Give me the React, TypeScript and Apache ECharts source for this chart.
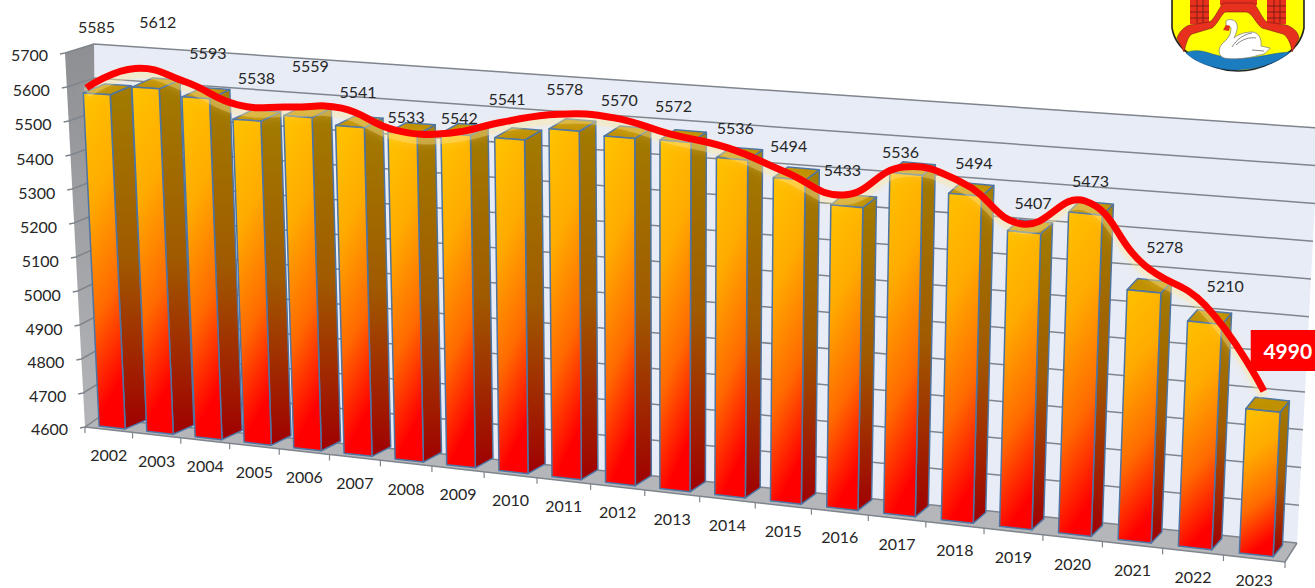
import React, { useEffect, useRef } from "react";
import * as echarts from "echarts";

const categories = ["2002","2003","2004","2005","2006","2007","2008","2009","2010","2011","2012","2013","2014","2015","2016","2017","2018","2019","2020","2021","2022","2023"];
const barValues = [5585,5612,5593,5538,5559,5541,5533,5542,5541,5578,5570,5572,5536,5494,5433,5536,5494,5407,5473,5278,5210,4990];
const lineLevels = [5604,5673,5645,5590,5596,5605,5554,5558,5603,5638,5640,5607,5581,5527,5476,5568,5537,5438,5516,5355,5261,5043];
const labelLevels = [5787,5810,5733,5671,5718,5652,5592,5604,5671,5710,5693,5687,5639,5602,5548,5610,5595,5496,5573,5404,5315,5152];
const labelNudge = [3,15,14,11,14,9,4,4,-2,1,0,-2,3,-1,-5,-6,8,8,4,19,19,22];
const yTicks = [4600,4700,4800,4900,5000,5100,5200,5300,5400,5500,5600,5700];

const W = 1315, H = 588, K = 0.134;
const FONT = "16px Lato, sans-serif";
type Pt = [number, number];
type Quad = { bl: Pt; br: Pt; tl: Pt; tr: Pt };
const barPlane: Quad = { bl: [88.5, 424.8], br: [1287, 558.2], tl: [70.5, 53.5], tr: [1307, 151] };
const backPlane: Quad = { bl: [98, 418], br: [1297, 543], tl: [94, 44], tr: [1319, 128] };
const frontPlane: Quad = { bl: [85, 427], br: [1285, 562], tl: [65, 53], tr: [1305, 154] };

const lerp = (a: Pt, b: Pt, t: number): Pt => [a[0] + (b[0] - a[0]) * t, a[1] + (b[1] - a[1]) * t];
const warp = (u: number) => u - K * u * (1 - u);
const onPlane = (q: Quad, u: number, v: number): Pt => lerp(lerp(q.bl, q.br, u), lerp(q.tl, q.tr, u), v);

function uv(api: any, i: number, val: number, off = 0): [number, number] {
  const p = api.coord([i, val]);
  const band = api.size([1, 0])[0];
  return [warp((p[0] + off * band) / W), (H - p[1]) / H];
}
const project = (api: any, q: Quad, i: number, val: number, off = 0): Pt => {
  const [u, v] = uv(api, i, val, off);
  return onPlane(q, u, v);
};
// The bars' tops bow slightly upward across the middle of the picture.
const projectBar = (api: any, i: number, val: number, off = 0): Pt => {
  const [u, v] = uv(api, i, val, off);
  const p = onPlane(barPlane, u, v);
  return [p[0], p[1] - 24 * u * (1 - u) * v];
};
const poly = (points: Pt[], style: any) => ({ type: "polygon", shape: { points }, style });

const GRID = "#7f858c";

function renderWalls(_: any, api: any) {
  const lo = yTicks[0], hi = yTicks[yTicks.length - 1];
  const corner = (q: Quad, right: boolean, top: boolean) =>
    project(api, q, right ? categories.length - 1 : 0, top ? hi : lo, right ? 0.5 : -0.5);
  const fbl = corner(frontPlane, false, false), ftl = corner(frontPlane, false, true), fbr = corner(frontPlane, true, false);
  const bbl = corner(backPlane, false, false), btl = corner(backPlane, false, true), bbr = corner(backPlane, true, false), btr = corner(backPlane, true, true);
  const children: any[] = [
    poly([bbl, bbr, btr, btl], { fill: "#e8ecf6" }),
    poly([fbl, bbl, btl, ftl], { fill: new echarts.graphic.LinearGradient(0, 0, 0, 1, [{ offset: 0, color: "#8d8f93" }, { offset: 1, color: "#b3b5b9" }]) }),
    poly([fbl, fbr, bbr, bbl], { fill: "#b4b6ba" }),
  ];
  yTicks.forEach((t) => {
    const a = project(api, frontPlane, 0, t, -0.5);
    const b = project(api, backPlane, 0, t, -0.5);
    const c = project(api, backPlane, categories.length - 1, t, 0.5);
    children.push({ type: "polyline", shape: { points: [[a[0] - 5, a[1] + 1], a, b, c] }, style: { fill: "none", stroke: GRID, lineWidth: 1.5 } });
  });
  children.push({ type: "polyline", shape: { points: [fbl, fbr, bbr] }, style: { fill: "none", stroke: GRID, lineWidth: 1.5 } });
  for (let k = 0; k <= categories.length; k++) {
    const a = project(api, frontPlane, 0, lo, -0.5 + k);
    children.push({ type: "line", shape: { x1: a[0], y1: a[1], x2: a[0], y2: a[1] + 6 }, style: { stroke: GRID, lineWidth: 1.2 } });
  }
  return { type: "group", children };
}

function renderBar(_: any, api: any) {
  const i = api.value(0), val = api.value(1), base = yTicks[0];
  const fl = projectBar(api, i, base, -0.275), fr = projectBar(api, i, base, 0.275);
  const tl = projectBar(api, i, val, -0.275), tr = projectBar(api, i, val, 0.275);
  const u = uv(api, i, val)[0];
  const d: Pt = [21.5 - 12.5 * u, -9 - 2.5 * u];
  const add = (p: Pt): Pt => [p[0] + d[0], p[1] + d[1]];
  const edge = { stroke: "#4d74a3", lineWidth: 1.5, lineJoin: "round" };
  return {
    type: "group",
    children: [
      poly([fr, add(fr), add(tr), tr], {
        ...edge,
        fill: new echarts.graphic.LinearGradient(0, 0, 0, 1, [{ offset: 0, color: "#a27c00" }, { offset: 0.5, color: "#a05a00" }, { offset: 1, color: "#a00000" }]),
      }),
      poly([tl, tr, add(tr), add(tl)], { ...edge, fill: "#bf9000" }),
      poly([fl, fr, tr, tl], {
        ...edge,
        fill: new echarts.graphic.LinearGradient(0, 0, 0.2, 1, [{ offset: 0, color: "#ffc400" }, { offset: 0.35, color: "#ffab00" }, { offset: 0.7, color: "#ff6a00" }, { offset: 1, color: "#ff0000" }]),
      }),
    ],
  };
}

function renderLine(_: any, api: any) {
  if (api.value(0) !== 0) return null;
  const points = lineLevels.map((lv, i) => {
    const p = project(api, barPlane, i, lv);
    return [p[0] - 10 + (10 * i) / (lineLevels.length - 1), p[1]] as Pt;
  });
  return {
    type: "group",
    children: [
      { type: "polyline", shape: { points: points.map((p) => [p[0], p[1] + 5]), smooth: 0.45 }, style: { fill: "none", stroke: "rgba(255,232,160,0.32)", lineWidth: 10, shadowColor: "rgba(255,225,140,0.85)", shadowBlur: 10 } },
      { type: "polyline", shape: { points, smooth: 0.45 }, style: { fill: "none", stroke: "#ff0000", lineWidth: 7 } },
    ],
  };
}

function renderValueLabel(_: any, api: any) {
  const i = api.value(0);
  const p = project(api, barPlane, i, labelLevels[i]);
  const x = p[0] + labelNudge[i], y = p[1];
  const last = i === categories.length - 1;
  const text = {
    type: "text",
    x,
    y,
    style: { text: String(barValues[i]), font: last ? "bold 21px Lato, sans-serif" : FONT, fill: last ? "#ffffff" : "#262626", align: "center", verticalAlign: "middle" },
  };
  if (!last) return text;
  return { type: "group", children: [{ type: "rect", shape: { x: x - 37, y: y - 21, width: 74, height: 41 }, style: { fill: "#ff0000" } }, text] };
}

function renderCategoryLabel(_: any, api: any) {
  const i = api.value(0);
  const p = project(api, frontPlane, i, yTicks[0]);
  return { type: "text", x: p[0], y: Math.min(p[1] + 25, H - 9), style: { text: categories[i], font: FONT, fill: "#262626", align: "center", verticalAlign: "middle" } };
}

function renderTickLabel(_: any, api: any) {
  const val = api.value(1);
  const [, v] = uv(api, 0, val);
  const p = project(api, frontPlane, 0, val, -0.5);
  return { type: "text", x: p[0] - 17, y: p[1] + 1.5 + 8 * v * (1 - v), style: { text: String(val), font: FONT, fill: "#262626", align: "right", verticalAlign: "middle" } };
}

const shapes: Record<string, string> = {
  armsShield: "M1172 -2 L1172 28 C1174 40 1182 50 1194 57 C1208 66 1224 71 1238 71 C1252 71 1268 66 1282 57 C1294 50 1302 40 1304 28 L1304 -2 Z",
  armsWater: "M1186 53 C1194 49 1204 51 1212 54 C1222 57 1232 58 1244 58 C1258 58 1272 53 1290 52 C1282 60 1262 69 1238 70 C1216 70 1196 63 1186 53 Z",
  armsRed: "M1177 38 C1180 30 1186 26 1190 25 L1209 22 C1214 20 1218 10 1223 3 L1254 3 C1259 10 1263 20 1267 22 L1286 25 C1292 27 1298 31 1299 38 L1292 52 C1291 42 1286 35 1283 34 L1262 28 C1256 24 1252 12 1246 12 L1226 12 C1222 12 1218 24 1212 28 L1192 34 C1188 36 1186 44 1184 52 Z",
  armsTowers: "M1190 0 H1209 V24 H1190 Z M1267 0 H1286 V24 H1267 Z M1220 -1 H1257 V5 H1220 Z",
  armsBricks: "M1197 0 V23 M1203 0 V23 M1190 6 H1209 M1190 12 H1209 M1190 18 H1209 M1274 0 V23 M1280 0 V23 M1267 6 H1286 M1267 12 H1286 M1267 18 H1286",
  armsSwan: "M1226 21 C1228 19 1233 19 1236 22 C1239 27 1236 34 1234 38 C1238 34 1246 32 1252 32 C1258 32 1262 38 1261 46 L1270 48 C1267 52 1264 55 1259 55 C1252 58 1232 60 1224 58 C1217 55 1218 47 1224 42 C1230 37 1231 32 1231 28 C1230 26 1228 25 1226 27 Z",
  armsBeak: "M1226 25 L1223 30 L1229 31 L1230 26 Z",
  armsWing: "M1232 47 C1236 40 1244 34 1252 33 M1236 45 C1242 39 1250 37 1256 38 M1252 50 L1264 51",
};
Object.entries(shapes).forEach(([name, d]) => {
  (echarts.graphic as any).registerShape(name, (echarts.graphic as any).extendPath(d, {}));
});
const logo = [
  { type: "armsShield", style: { fill: "#ffff00", stroke: "#222222", lineWidth: 1.6 } },
  { type: "armsWater", style: { fill: "#1b7cc0", stroke: "#0d5a96", lineWidth: 0.6 } },
  { type: "armsTowers", style: { fill: "#e8301e" } },
  { type: "armsBricks", style: { fill: "none", stroke: "#6b1a10", lineWidth: 0.8 } },
  { type: "armsRed", style: { fill: "#e8301e", stroke: "#7a1a10", lineWidth: 0.6 } },
  { type: "armsSwan", style: { fill: "#ffffff", stroke: "#777777", lineWidth: 0.7 } },
  { type: "armsWing", style: { fill: "none", stroke: "#666666", lineWidth: 0.8 } },
  { type: "armsBeak", style: { fill: "#e0301e" } },
];

export default function App() {
  const ref = useRef<HTMLDivElement>(null);
  useEffect(() => {
    document.body.style.margin = "0";
    document.body.style.overflow = "hidden";
    const chart = echarts.init(ref.current!, undefined, { renderer: "svg" });
    const barData = barValues.map((v, i) => [i, v]);
    chart.setOption({
      animation: false,
      backgroundColor: "#ffffff",
      grid: { left: 0, right: 0, top: 0, bottom: 0 },
      xAxis: { type: "category", data: categories, show: false },
      yAxis: { type: "value", min: 4600, max: 5700, interval: 100, show: false },
      graphic: { elements: logo.map((l) => ({ ...l, x: 0, y: 0, z: 100 })) },
      series: [
        { type: "custom", name: "walls", clip: false, z: 1, data: [[0, 4600]], renderItem: renderWalls, silent: true },
        { type: "custom", name: "bars", clip: false, z: 2, data: barData, renderItem: renderBar, silent: true },
        { type: "custom", name: "trend", clip: false, z: 3, data: barData, renderItem: renderLine, silent: true },
        { type: "custom", name: "values", clip: false, z: 4, data: barData, renderItem: renderValueLabel, silent: true },
        { type: "custom", name: "years", clip: false, z: 4, data: barData, renderItem: renderCategoryLabel, silent: true },
        { type: "custom", name: "ticks", clip: false, z: 4, data: yTicks.map((t) => [0, t]), renderItem: renderTickLabel, silent: true },
      ],
    });
    return () => chart.dispose();
  }, []);
  return <div ref={ref} style={{ width: W, height: H }} />;
}
